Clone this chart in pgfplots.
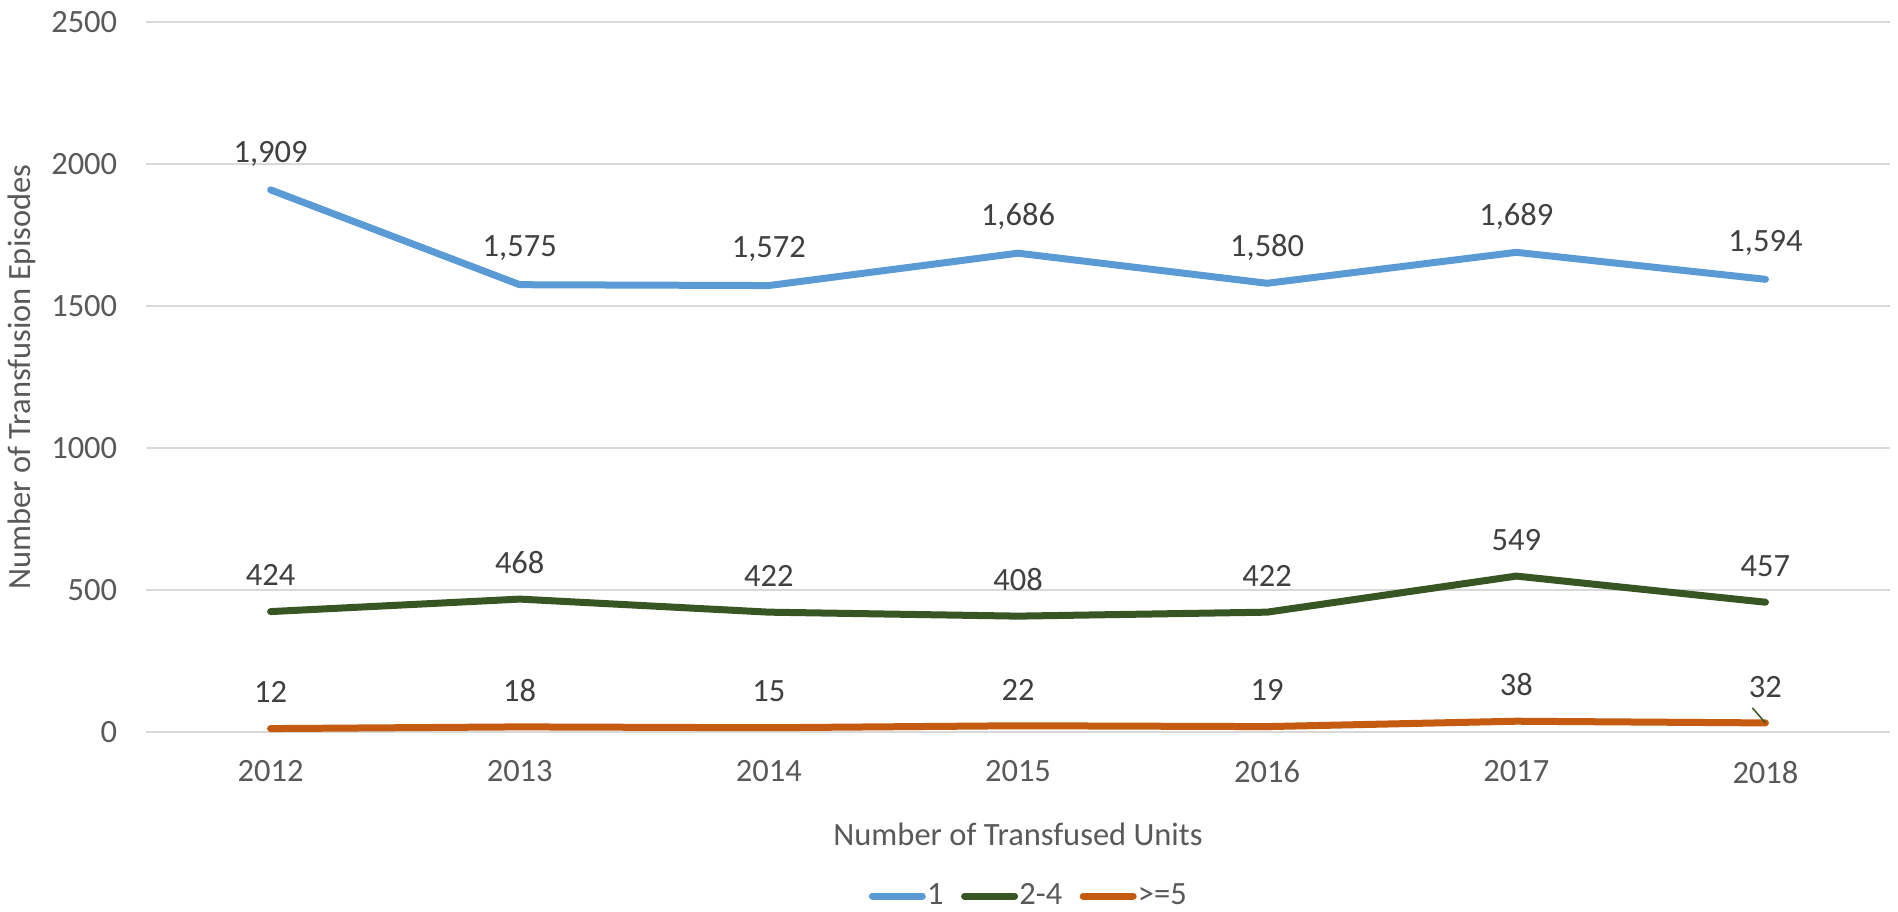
\documentclass[border=0pt]{standalone}
\usepackage{fontspec}
\setmainfont{Carlito}
\usepackage{pgfplots}
\pgfplotsset{compat=1.18}
\definecolor{cblue}{HTML}{5B9BD5}
\definecolor{cgreen}{HTML}{375623}
\definecolor{corange}{HTML}{C55A11}
\definecolor{gridc}{HTML}{D9D9D9}
\definecolor{tcol}{HTML}{595959}
\definecolor{lcol}{HTML}{404040}
\begin{document}
\begin{tikzpicture}
\path[use as bounding box] (-58.4pt,-71.6pt) rectangle (700.8pt,292.8pt);
\begin{axis}[at={(0,0)}, anchor=south west, scale only axis,
  width=697.6pt, height=284pt,
  xmin=-0.5, xmax=6.5, ymin=0, ymax=2500,
  xtick={0,...,6}, xticklabels={2012,2013,2014,2015,2016,2017,2018},
  ytick={0,500,1000,1500,2000,2500},
  axis line style={draw=none}, major tick length=0pt,
  ymajorgrids, grid style={color=gridc, line width=0.6pt},
  font=\fontsize{13}{15.6}\selectfont,
  tick label style={color=tcol},
  yticklabel style={xshift=-8pt}, xticklabel style={yshift=-8pt},
  /pgf/number format/assume math mode=true, /pgf/number format/1000 sep={},
  ylabel={Number of Transfusion Episodes},
  ylabel style={at={(axis description cs:0,0.5)}, anchor=center, yshift=49.6pt, color=tcol},
  xlabel={Number of Transfused Units},
  xlabel style={at={(axis description cs:0.5,0)}, anchor=center, yshift=-40.8pt, color=tcol},
  nodes near coords={\pgfmathprintnumber[1000 sep={,}]{\pgfplotspointmeta}},
  every node near coord/.append style={anchor=center, yshift=14.5pt, color=lcol},
  legend style={at={(axis description cs:0.506,0)}, yshift=-65.6pt, anchor=center,
    legend columns=-1, draw=none, text=tcol, font=\fontsize{13}{15.6}\selectfont,
    nodes={inner xsep=0.5pt},
    /tikz/every even column/.append style={column sep=6.5pt}},
  legend image code/.code={\draw[#1, line cap=round] (1.4pt,0pt) -- (21.4pt,0pt);},
  every axis plot/.append style={line width=2.8pt, line join=round, line cap=round, mark=none}
]
\addplot[cblue] coordinates {(0,1909)(1,1575)(2,1572)(3,1686)(4,1580)(5,1689)(6,1594)};
\addplot[cgreen] coordinates {(0,424)(1,468)(2,422)(3,408)(4,422)(5,549)(6,457)};
\addplot[corange] coordinates {(0,12)(1,18)(2,15)(3,22)(4,19)(5,38)(6,32)};
\legend{1, 2-4, >=5}
\draw[cgreen, line width=0.6pt] (axis cs:6,32) -- ++(-5.2pt,6pt);
\end{axis}
\end{tikzpicture}
\end{document}
